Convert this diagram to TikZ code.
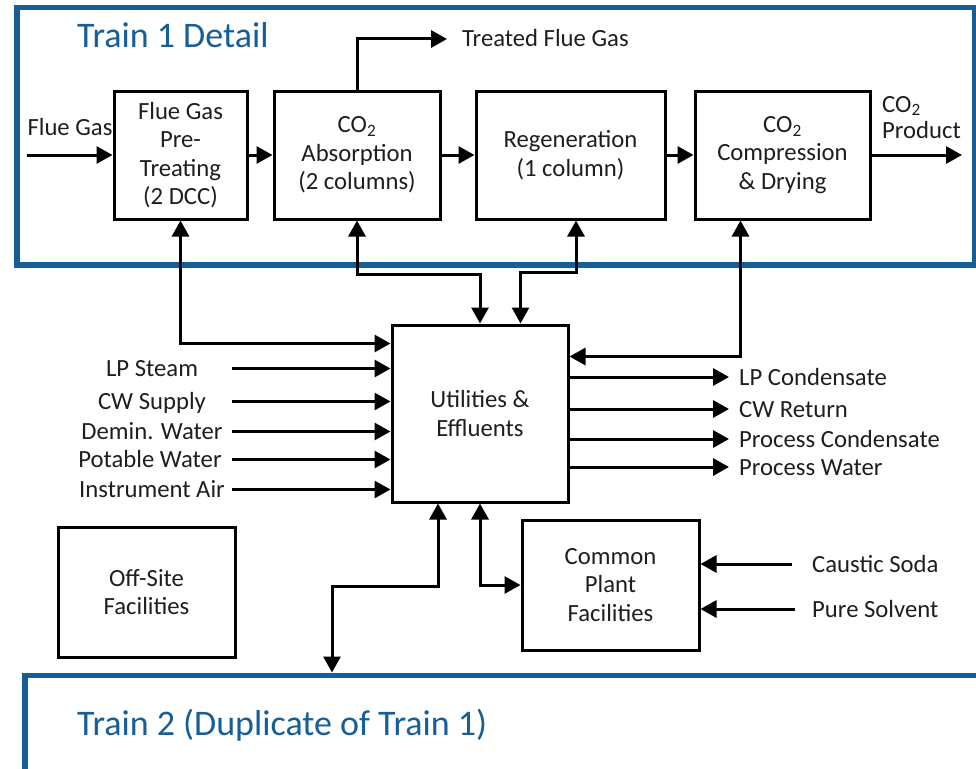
\documentclass[tikz,border=0pt]{standalone}
\usepackage{fontspec}
\setmainfont{Carlito}
\usetikzlibrary{arrows.meta,calc,positioning}
\definecolor{trainColor}{RGB}{21,94,151}
\definecolor{textColor}{RGB}{30,30,30}
\tikzset{component/.style={draw, line width=3pt, align=center, inner sep=0pt, text=textColor, font=\fontsize{24.7}{28.5}\selectfont}}
\tikzset{train/.style={draw=trainColor, line width=5.5pt, inner sep=0pt}}
\tikzset{trainTitle/.style={text=trainColor, inner sep=0pt, font=\fontsize{36}{40}\selectfont}}
\tikzset{stream/.style={inner sep=0pt, text=textColor, font=\fontsize{24.7}{28.5}\selectfont}}

\begin{document}
\begin{tikzpicture}[x=1pt, y=-1pt]
\useasboundingbox (0,0) rectangle (976,768);
% Nodes
\node (TrainOne) [train, anchor=north west, minimum width=958pt, minimum height=257pt] at (14,5) {};
\node (TrainOneTitle) [trainTitle, anchor=base west] at (77,48) {Train 1 Detail};
\node (TrainTwo) [train, anchor=north west, minimum width=1000pt, minimum height=150pt] at (22,672.5) {};
\node (TrainTwoTitle) [trainTitle, anchor=base west] at (77,735) {Train 2 (Duplicate of Train 1)};

\node (FlueGasPreTreating) [component, minimum width=133pt, minimum height=128pt] at (180.5,155) {Flue Gas\\ Pre-\\ Treating\\ (2 DCC)};
\node (CO2Absorption) [component, minimum width=166pt, minimum height=128pt] at (357,155) {CO\textsubscript{2}\\ Absorption\\ (2 columns)};
\node (Regeneration) [component, minimum width=189pt, minimum height=128pt] at (570.5,155) {Regeneration\\ (1 column)};
\node (CO2Compression) [component, minimum width=175pt, minimum height=128pt] at (782.5,155) {CO\textsubscript{2}\\ Compression\\ \& Drying};

\node (UtilitiesEffluents) [component, minimum width=176pt, minimum height=177pt] at (480,413.5) {Utilities \&\\ Effluents};
\node (OffSiteFacilities) [component, minimum width=177pt, minimum height=130pt] at (146.5,592) {Off-Site\\ Facilities};
\node (CommonPlantFacilities) [component, minimum width=177pt, minimum height=130pt] at (610.5,585) {Common\\ Plant\\ Facilities};

% Stream labels
\node (FlueGas) [stream, anchor=base] at (70,135) {Flue Gas};
\node (TreatedFlueGas) [stream, anchor=base west] at (462,47) {Treated Flue Gas};
\node (CO2Product) [stream, anchor=north west, align=left, font=\fontsize{24.7}{26.5}\selectfont] at (882,96) {CO\textsubscript{2}\\ Product};

\node (LPSteam) [stream, anchor=base] at (152,376.5) {LP Steam};
\node (CWSupply) [stream, anchor=base] at (152,409.5) {CW Supply};
\node (DeminWater) [stream, anchor=base] at (152,439.5) {Demin. Water};
\node (PotableWater) [stream, anchor=base] at (150,467.5) {Potable Water};
\node (InstrumentAir) [stream, anchor=base] at (152,497.5) {Instrument Air};

\node (LPCondensate) [stream, anchor=base west] at (739,385) {LP Condensate};
\node (CWReturn) [stream, anchor=base west] at (739,417) {CW Return};
\node (ProcessCondensate) [stream, anchor=base west] at (739,447) {Process Condensate};
\node (ProcessWater) [stream, anchor=base west] at (739,475) {Process Water};

\node (CausticSoda) [stream, anchor=base west] at (812,572) {Caustic Soda};
\node (PureSolvent) [stream, anchor=base west] at (812,617) {Pure Solvent};

% Free ends
\coordinate (FlueGasIn) at (27,155);
\coordinate (TreatedFlueGasOut) at (447,39);
\coordinate (CO2ProductOut) at (962,155);
\coordinate (LPSteamIn) at (232,368.5);
\coordinate (CWSupplyIn) at (232,401.5);
\coordinate (DeminWaterIn) at (232,431.5);
\coordinate (PotableWaterIn) at (232,459.5);
\coordinate (InstrumentAirIn) at (232,489.5);
\coordinate (LPCondensateOut) at (729,377);
\coordinate (CWReturnOut) at (729,409);
\coordinate (ProcessCondensateOut) at (729,439);
\coordinate (ProcessWaterOut) at (729,467);
\coordinate (CausticSodaIn) at (792,564);
\coordinate (PureSolventIn) at (795,609);

% Connectors
\begin{scope}[line width=3pt, >={Triangle[length=16pt, width=17pt]}]

\draw [->] (FlueGasIn) -- (FlueGasPreTreating);
\draw [->] (FlueGasPreTreating) -- (CO2Absorption);
\draw [->] (CO2Absorption) -- (Regeneration);
\draw [->] (Regeneration) -- (CO2Compression);
\draw [->] (CO2Compression) -- (CO2ProductOut);
\draw [->] (CO2Absorption.north) |- (TreatedFlueGasOut);

\draw [<->] (FlueGasPreTreating.south) |- ([yshift=-20pt]UtilitiesEffluents.north west);
\draw [<->] (CO2Absorption.south) -- ++(0,54) -| (UtilitiesEffluents.north);
\draw [<->] ([xshift=5.5pt]Regeneration.south) -- ++(0,52) -| ([xshift=40.5pt]UtilitiesEffluents.north);
\draw [<->] ([xshift=-42pt]CO2Compression.south) |- ([yshift=-33pt]UtilitiesEffluents.north east);

\draw [->] (LPSteamIn) -- (LPSteamIn -| UtilitiesEffluents.west);
\draw [->] (CWSupplyIn) -- (CWSupplyIn -| UtilitiesEffluents.west);
\draw [->] (DeminWaterIn) -- (DeminWaterIn -| UtilitiesEffluents.west);
\draw [->] (PotableWaterIn) -- (PotableWaterIn -| UtilitiesEffluents.west);
\draw [->] (InstrumentAirIn) -- (InstrumentAirIn -| UtilitiesEffluents.west);

\draw [->] (LPCondensateOut -| UtilitiesEffluents.east) -- (LPCondensateOut);
\draw [->] (CWReturnOut -| UtilitiesEffluents.east) -- (CWReturnOut);
\draw [->] (ProcessCondensateOut -| UtilitiesEffluents.east) -- (ProcessCondensateOut);
\draw [->] (ProcessWaterOut -| UtilitiesEffluents.east) -- (ProcessWaterOut);

\draw [<->] ([xshift=-42pt]UtilitiesEffluents.south) -- ++(0,83) -| ([xshift=310pt]TrainTwo.north west);
\draw [<->] (UtilitiesEffluents.south) |- (CommonPlantFacilities.west);

\draw [->] (CausticSodaIn) -- (CausticSodaIn -| CommonPlantFacilities.east);
\draw [->] (PureSolventIn) -- (PureSolventIn -| CommonPlantFacilities.east);

\end{scope}

\end{tikzpicture}
\end{document}
